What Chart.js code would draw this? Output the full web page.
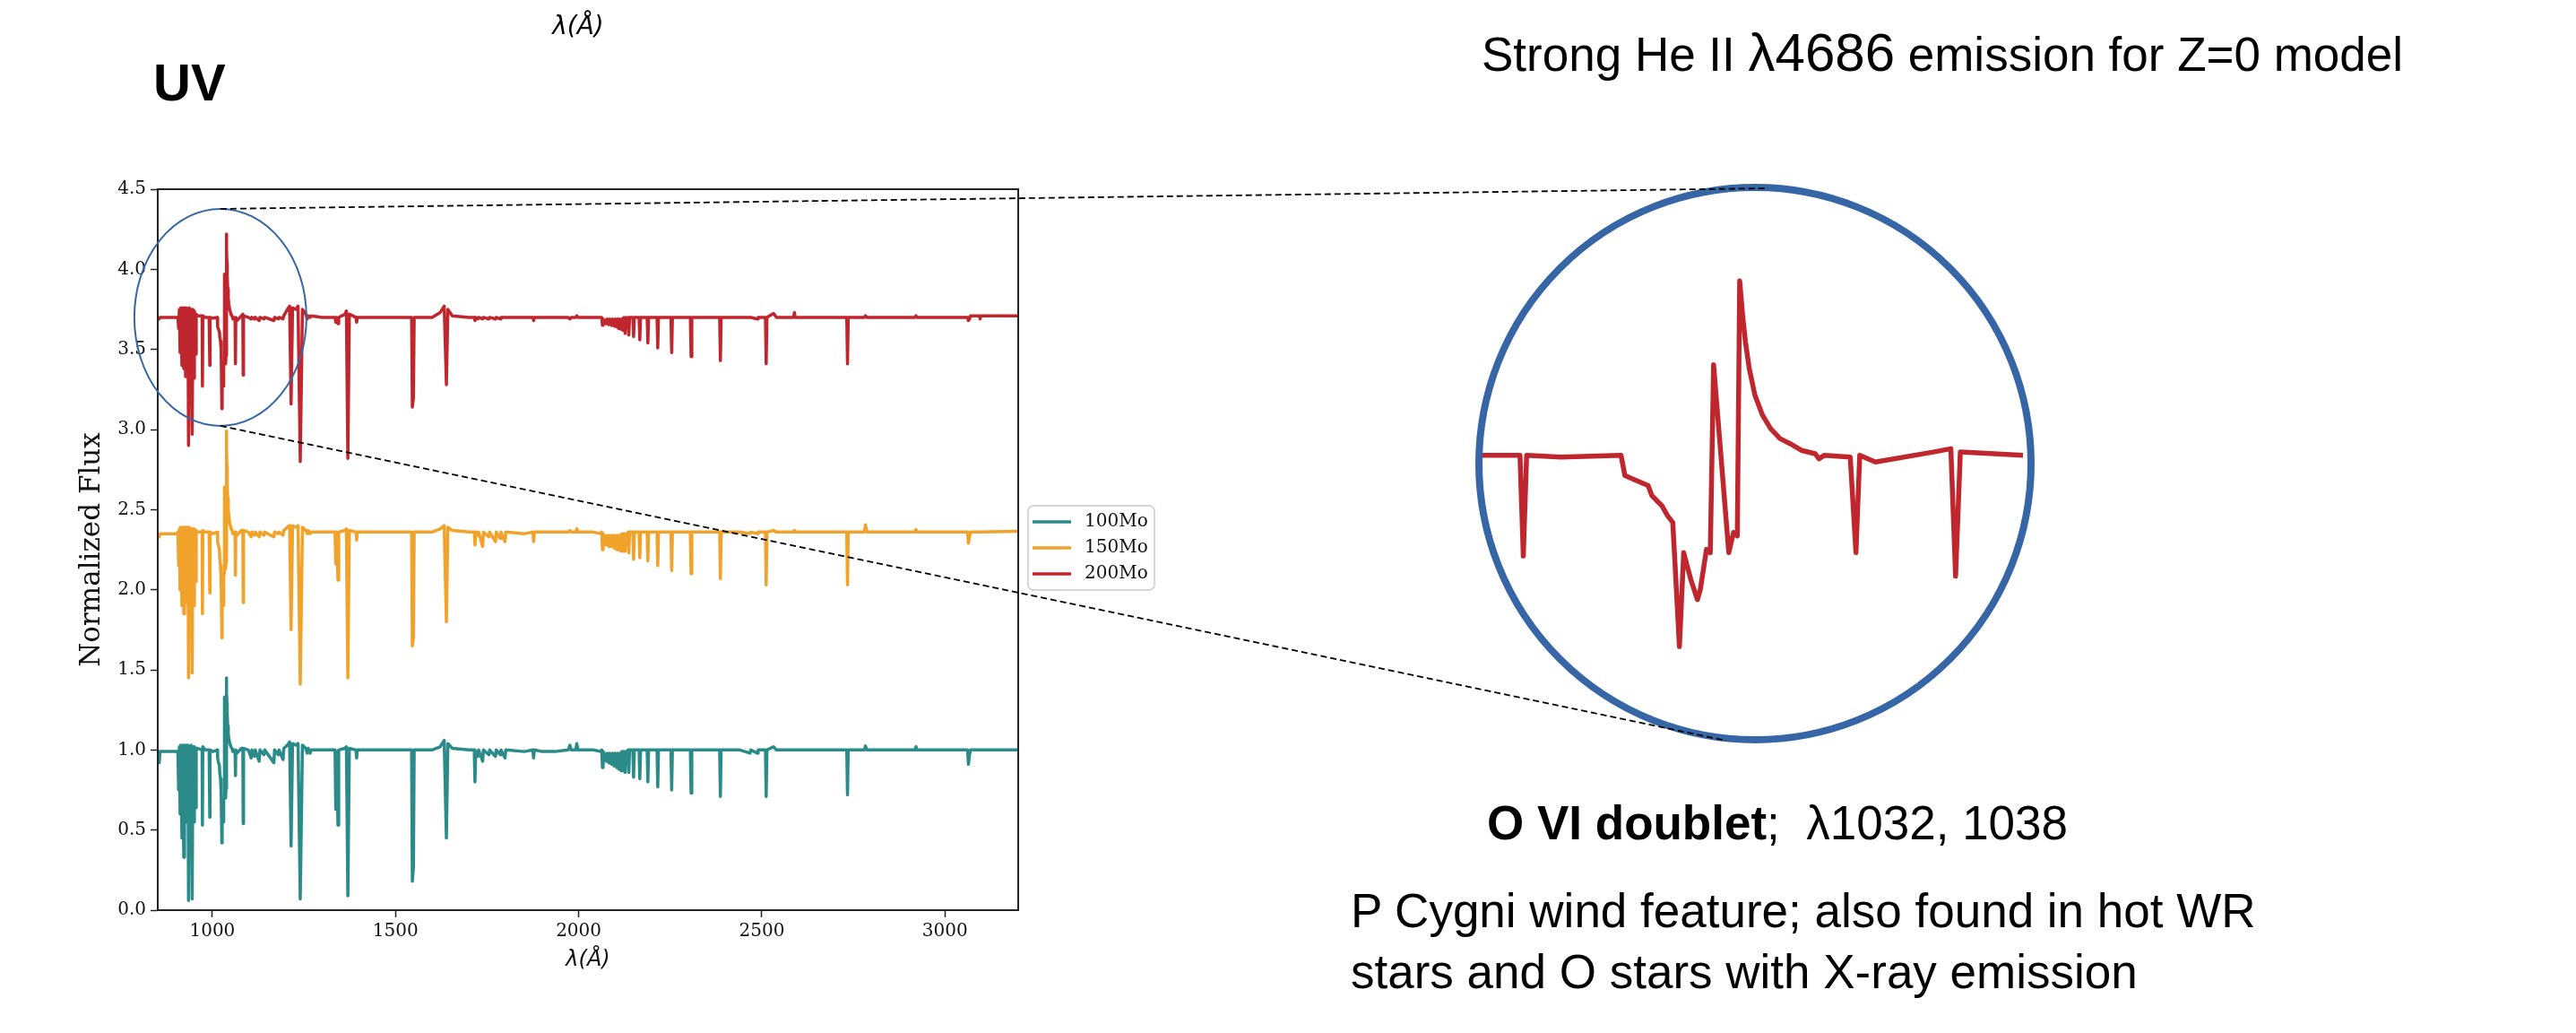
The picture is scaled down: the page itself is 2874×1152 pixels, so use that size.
<!DOCTYPE html>
<html>
<head>
<meta charset="utf-8">
<script src="https://cdn.jsdelivr.net/npm/chart.js@4.4.0/dist/chart.umd.min.js"></script>
<style>
  html, body { margin: 0; padding: 0; background: #fff; }
  body { width: 2874px; height: 1152px; position: relative; overflow: hidden;
         font-family: "Liberation Sans", Arial, sans-serif; color: #000; }
  canvas { position: absolute; }
  #spectrum { left: 0; top: 0; }
  #zoom { left: 1654px; top: 210px; }
  .txt { position: absolute; white-space: pre; font-size: 53px; line-height: 53px; }
  .big { font-size: 60px; line-height: 0; }
</style>
</head>
<body>
<canvas id="spectrum" width="2874" height="1152"></canvas>
<canvas id="zoom" width="603" height="614"></canvas>

<div class="txt" style="left:600px; top:15px; width:90px; text-align:center; font:italic 28px/28px 'DejaVu Sans'">λ(Å)</div>
<div class="txt" style="left:171px; top:63px; font-size:58px; line-height:58px; font-weight:bold">UV</div>
<div class="txt" style="left:1653px; top:34px">Strong He II <span class="big">λ4686</span> emission for Z=0 model</div>
<div class="txt" style="left:1659px; top:891px"><b>O VI doublet</b>;  λ1032, 1038</div>
<div class="txt" style="left:1507px; top:982px; line-height:68px">P Cygni wind feature; also found in hot WR<br>stars and O stars with X-ray emission</div>

<script>
// rest-frame wavelength grid (Angstrom), shared by the three models
const wavelength = [
  851, 853, 855, 857, 870, 890, 904,
  906, 908, 910, 912, 914, 917, 919, 922, 924, 927, 929, 932, 933.5, 935, 937, 940, 942, 945, 947, 949, 951, 954, 956, 960, 972, 973, 974, 980,
  984.5, 991.2, 992.4, 993.1, 993.8, 1001, 1013.7, 1014.5, 1016.1, 1019.4, 1020.2, 1022.3, 1023.5, 1024.6, 1026.0, 1026.9, 1028.4, 1029.8, 1030.4, 1031.7, 1032.5, 1033.2,
  1036.4, 1037.4, 1038.2, 1038.7, 1039.3, 1039.9, 1040.7, 1041.9, 1043.5, 1045.2, 1047.2, 1049.3, 1051.7, 1054.6, 1055.4, 1056.5,
  1062, 1063.2, 1064, 1067.3, 1079.5, 1083.2, 1084.2, 1085.2, 1098.4,
  1106, 1108, 1115, 1117, 1128, 1130, 1141, 1143, 1168, 1170, 1180, 1182, 1193, 1195, 1205, 1211, 1215, 1219, 1228, 1234,
  1240, 1246, 1255, 1259, 1262, 1267, 1270, 1300, 1335, 1337, 1339, 1343, 1345, 1362, 1366, 1370, 1374, 1392, 1394, 1396,
  1450, 1500, 1544, 1546, 1549, 1551, 1600, 1622, 1633, 1639, 1643, 1655, 1700, 1715, 1717, 1719, 1725,
  1727, 1738, 1740, 1755, 1757, 1773, 1775, 1786, 1788, 1799, 1801, 1852, 1875, 1877, 1879, 1900, 1935,
  1972, 1976, 1980, 1992, 1995, 1998, 2040, 2060, 2063, 2065, 2067, 2075, 2077, 2082, 2084, 2090, 2092,
  2097, 2099, 2104, 2106, 2110, 2112, 2116, 2118, 2121, 2123, 2127, 2129, 2133, 2135, 2137, 2139,
  2148, 2150, 2152, 2165, 2167, 2169, 2187, 2189, 2191, 2214, 2216, 2218, 2252, 2254, 2256, 2305, 2307, 2309, 2385,
  2387, 2389, 2440, 2468, 2470, 2488, 2490, 2510, 2512, 2514, 2532, 2540, 2587, 2589, 2591, 2650, 2732, 2734, 2736,
  2780, 2783, 2787, 2918, 2921, 2924, 3062, 3064, 3067, 3070, 3094, 3096, 3098, 3200
];

// normalized flux, 100 Msun model (no offset)
const flux100 = [
  1.00, 1.00, 0.92, 0.99, 0.99, 0.99, 0.99,
  0.99, 0.75, 1.02, 0.60, 1.03, 0.45, 1.03, 0.33, 1.03, 0.55, 1.03, 0.70, 1.03, 0.06, 1.02, 0.55, 1.03, 0.07, 1.02, 0.55, 1.02, 0.64, 1.01, 1.01, 1.00, 0.53, 1.02, 1.00,
  1.00, 1.00, 1.00, 0.58, 1.00, 0.99, 1.00, 0.95, 0.93, 0.90, 0.86, 0.82, 0.78, 0.74, 0.42, 0.62, 0.57, 0.55, 0.57, 0.70, 0.70, 1.33,
  0.70, 0.78, 0.76, 1.45, 1.36, 1.29, 1.22, 1.15, 1.10, 1.07, 1.045, 1.03, 1.015, 1.005, 0.99, 1.00,
  0.99, 0.84, 1.00, 0.98, 1.01, 1.01, 0.54, 1.01, 1.00,
  0.95, 1.00, 0.96, 1.00, 0.93, 1.00, 0.97, 1.00, 0.92, 1.00, 0.97, 1.00, 0.94, 1.01, 1.03, 1.05, 0.40, 1.04, 1.03, 1.04,
  0.07, 1.03, 1.01, 0.98, 1.01, 0.98, 1.00, 1.00, 1.00, 0.63, 0.99, 0.53, 1.00, 1.01, 1.02, 0.09, 1.01, 1.00, 0.95, 1.00,
  1.00, 1.00, 1.00, 0.18, 0.27, 1.00, 1.00, 1.02, 1.06, 0.45, 1.04, 1.01, 1.00, 1.00, 0.80, 0.99, 0.96,
  1.00, 0.93, 1.00, 0.97, 1.00, 0.96, 1.00, 0.97, 1.00, 0.95, 1.00, 0.99, 1.00, 0.95, 1.00, 0.99, 0.99,
  1.00, 1.03, 1.00, 1.00, 1.04, 1.00, 1.00, 0.99, 1.00, 0.89, 0.99, 0.93, 0.98, 0.92, 0.98, 0.91, 0.98,
  0.90, 0.98, 0.89, 0.98, 0.88, 0.98, 0.87, 0.99, 0.87, 0.99, 0.86, 0.99, 0.93, 1.00, 0.86, 1.00,
  1.00, 0.83, 1.00, 1.00, 0.82, 1.00, 1.00, 0.80, 1.00, 1.00, 0.77, 1.00, 1.00, 0.75, 1.00, 1.00, 0.73, 1.00, 1.00,
  0.71, 1.00, 1.00, 0.98, 1.00, 0.98, 1.00, 1.00, 0.71, 1.00, 1.02, 1.00, 1.00, 1.00, 1.00, 1.00, 1.00, 0.72, 1.00,
  1.00, 1.025, 1.00, 1.00, 1.02, 1.00, 1.00, 0.91, 0.97, 1.00, 1.00, 1.00, 1.00, 1.00
];

// 150 Msun model, plotted with +1.35 offset
const flux150 = [
  2.35, 2.35, 2.33, 2.35, 2.35, 2.35, 2.35,
  2.36, 2.15, 2.38, 2.00, 2.39, 1.90, 2.39, 1.85, 2.39, 1.92, 2.39, 2.05, 2.39, 1.45, 2.39, 1.90, 2.38, 1.48, 2.38, 1.90, 2.38, 2.05, 2.37, 2.36, 2.36, 1.85, 2.37, 2.36,
  2.36, 2.36, 2.36, 1.98, 2.36, 2.35, 2.36, 2.30, 2.28, 2.25, 2.20, 2.15, 2.10, 2.06, 1.70, 2.00, 1.93, 1.90, 1.93, 2.10, 2.10, 2.64,
  2.13, 2.18, 2.17, 2.99, 2.86, 2.77, 2.67, 2.57, 2.50, 2.46, 2.42, 2.40, 2.38, 2.365, 2.35, 2.36,
  2.35, 2.09, 2.36, 2.34, 2.37, 2.37, 1.92, 2.37, 2.36,
  2.33, 2.36, 2.34, 2.36, 2.33, 2.36, 2.34, 2.36, 2.33, 2.36, 2.35, 2.36, 2.34, 2.37, 2.39, 2.40, 1.75, 2.40, 2.39, 2.40,
  1.41, 2.39, 2.37, 2.35, 2.37, 2.35, 2.36, 2.36, 2.36, 2.16, 2.36, 2.06, 2.36, 2.37, 2.38, 1.45, 2.37, 2.36, 2.31, 2.36,
  2.36, 2.36, 2.36, 1.65, 1.70, 2.36, 2.36, 2.38, 2.40, 1.80, 2.39, 2.37, 2.36, 2.36, 2.28, 2.36, 2.34,
  2.36, 2.27, 2.36, 2.33, 2.36, 2.30, 2.36, 2.32, 2.36, 2.30, 2.36, 2.35, 2.36, 2.30, 2.36, 2.36, 2.36,
  2.36, 2.37, 2.36, 2.36, 2.38, 2.36, 2.36, 2.35, 2.36, 2.25, 2.35, 2.28, 2.34, 2.27, 2.34, 2.27, 2.34,
  2.26, 2.34, 2.25, 2.34, 2.25, 2.34, 2.24, 2.35, 2.24, 2.35, 2.24, 2.35, 2.30, 2.36, 2.23, 2.36,
  2.36, 2.19, 2.36, 2.36, 2.20, 2.36, 2.36, 2.18, 2.36, 2.36, 2.15, 2.36, 2.36, 2.12, 2.36, 2.36, 2.10, 2.36, 2.36,
  2.07, 2.36, 2.36, 2.35, 2.36, 2.35, 2.36, 2.36, 2.03, 2.36, 2.37, 2.36, 2.36, 2.37, 2.36, 2.36, 2.36, 2.03, 2.36,
  2.36, 2.405, 2.36, 2.36, 2.375, 2.36, 2.36, 2.29, 2.33, 2.36, 2.36, 2.36, 2.36, 2.365
];

// 200 Msun model, plotted with +2.7 offset
const flux200 = [
  3.70, 3.70, 3.69, 3.70, 3.70, 3.70, 3.70,
  3.70, 3.63, 3.75, 3.48, 3.76, 3.40, 3.76, 3.38, 3.76, 3.33, 3.76, 3.45, 3.75, 2.90, 3.76, 3.30, 3.75, 2.97, 3.75, 3.32, 3.74, 3.47, 3.72, 3.71, 3.71, 3.27, 3.71, 3.70,
  3.70, 3.70, 3.70, 3.40, 3.70, 3.695, 3.70, 3.64, 3.63, 3.61, 3.58, 3.55, 3.52, 3.50, 3.13, 3.41, 3.33, 3.27, 3.30, 3.42, 3.41, 3.97,
  3.41, 3.47, 3.46, 4.22, 4.12, 4.04, 3.96, 3.88, 3.82, 3.78, 3.75, 3.735, 3.715, 3.705, 3.69, 3.70,
  3.695, 3.41, 3.70, 3.68, 3.71, 3.72, 3.34, 3.71, 3.70,
  3.69, 3.70, 3.69, 3.70, 3.68, 3.70, 3.69, 3.70, 3.68, 3.70, 3.69, 3.70, 3.69, 3.71, 3.75, 3.77, 3.16, 3.76, 3.75, 3.77,
  2.80, 3.75, 3.72, 3.69, 3.71, 3.70, 3.71, 3.70, 3.70, 3.67, 3.70, 3.66, 3.70, 3.72, 3.74, 2.82, 3.72, 3.70, 3.67, 3.70,
  3.70, 3.70, 3.70, 3.14, 3.20, 3.70, 3.70, 3.73, 3.77, 3.28, 3.75, 3.71, 3.70, 3.70, 3.68, 3.70, 3.69,
  3.70, 3.69, 3.70, 3.69, 3.70, 3.69, 3.70, 3.69, 3.70, 3.70, 3.70, 3.70, 3.70, 3.68, 3.70, 3.70, 3.70,
  3.70, 3.69, 3.70, 3.70, 3.71, 3.70, 3.70, 3.70, 3.70, 3.65, 3.69, 3.66, 3.69, 3.655, 3.69, 3.65, 3.69,
  3.645, 3.69, 3.64, 3.69, 3.63, 3.69, 3.625, 3.69, 3.62, 3.70, 3.60, 3.70, 3.66, 3.70, 3.59, 3.70,
  3.70, 3.58, 3.70, 3.70, 3.56, 3.70, 3.70, 3.54, 3.70, 3.70, 3.51, 3.70, 3.70, 3.48, 3.70, 3.70, 3.455, 3.70, 3.70,
  3.43, 3.70, 3.70, 3.70, 3.70, 3.69, 3.70, 3.70, 3.41, 3.70, 3.725, 3.70, 3.70, 3.73, 3.70, 3.70, 3.70, 3.41, 3.70,
  3.70, 3.71, 3.70, 3.70, 3.71, 3.70, 3.70, 3.68, 3.69, 3.71, 3.71, 3.69, 3.71, 3.71
];

const modelLabels = ['100Mo', '150Mo', '200Mo'];
const xTicks = [1000, 1500, 2000, 2500, 3000];
const yTicks = [0, 0.5, 1, 1.5, 2, 2.5, 3, 3.5, 4, 4.5];

const TEAL = '#2a8b88', ORANGE = '#f0a22b', RED = '#c0262d', BLUE = '#3766a6';
const SERIF = '"DejaVu Serif", serif';

const points = flux => wavelength.map((w, i) => ({ x: w, y: flux[i] }));

// closes the axes box on top and right like matplotlib spines
const frame = {
  id: 'frame',
  afterDatasetsDraw(chart) {
    const { ctx, chartArea: a } = chart;
    ctx.save();
    ctx.strokeStyle = '#222';
    ctx.lineWidth = 2;
    ctx.strokeRect(a.left, a.top, a.right - a.left, a.bottom - a.top);
    ctx.restore();
  }
};

// legend just outside the right spine
const legendBox = {
  id: 'legendBox',
  afterDraw(chart) {
    const { ctx } = chart;
    ctx.save();
    ctx.fillStyle = '#fff';
    ctx.strokeStyle = '#d6d6d6';
    ctx.lineWidth = 2;
    ctx.beginPath();
    ctx.roundRect(1147, 564, 141, 94, 6);
    ctx.fill();
    ctx.stroke();
    ctx.font = '20px ' + SERIF;
    ctx.textBaseline = 'middle';
    chart.data.datasets.forEach((ds, i) => {
      const yy = 582 + i * 29;
      ctx.strokeStyle = ds.borderColor;
      ctx.lineWidth = 3.5;
      ctx.beginPath();
      ctx.moveTo(1152, yy);
      ctx.lineTo(1195, yy);
      ctx.stroke();
      ctx.fillStyle = '#111';
      ctx.fillText(ds.label, 1210, yy);
    });
    ctx.restore();
  }
};

// ellipse around O VI, the magnifier ring and the dashed connectors
const zoomGuide = {
  id: 'zoomGuide',
  afterDraw(chart) {
    const { ctx, scales: { x, y } } = chart;
    const cx = x.getPixelForValue(1022);
    const cy = y.getPixelForValue(3.70);
    const rx = 96, ry = 121;
    ctx.save();
    ctx.strokeStyle = BLUE;
    ctx.lineWidth = 2;
    ctx.beginPath();
    ctx.ellipse(cx, cy, rx, ry, 0, 0, Math.PI * 2);
    ctx.stroke();

    ctx.lineWidth = 8;
    ctx.beginPath();
    ctx.arc(1958, 517, 308, 0, Math.PI * 2);
    ctx.stroke();

    ctx.strokeStyle = '#000';
    ctx.lineWidth = 1.8;
    ctx.setLineDash([7, 4]);
    ctx.beginPath();
    ctx.moveTo(cx, cy - ry);
    ctx.lineTo(1973, 210);
    ctx.moveTo(cx, cy + ry);
    ctx.lineTo(1926, 826);
    ctx.stroke();
    ctx.restore();
  }
};

const lineStyle = {
  line: { borderWidth: 3.5, borderJoinStyle: 'round', tension: 0, fill: false },
  point: { radius: 0 }
};

new Chart(document.getElementById('spectrum'), {
  type: 'line',
  data: {
    datasets: [
      { label: modelLabels[0], data: points(flux100), borderColor: TEAL, order: 2 },
      { label: modelLabels[1], data: points(flux150), borderColor: ORANGE, order: 1 },
      { label: modelLabels[2], data: points(flux200), borderColor: RED, order: 0 }
    ]
  },
  options: {
    responsive: false,
    animation: false,
    events: [],
    layout: { padding: { left: 0, top: 211, right: 1738, bottom: 0 } },
    elements: lineStyle,
    plugins: { legend: { display: false }, tooltip: { enabled: false } },
    scales: {
      x: {
        type: 'linear',
        min: 851,
        max: 3200,
        afterBuildTicks: s => { s.ticks = xTicks.map(v => ({ value: v })); },
        afterFit: s => { s.height = 137; },
        ticks: { font: { family: SERIF, size: 20 }, color: '#111', padding: 4, maxRotation: 0,
                 callback: v => String(v) },
        grid: { drawOnChartArea: false, drawTicks: true, tickLength: 8, tickColor: '#222', tickWidth: 1.5 },
        border: { display: true, color: '#222', width: 2 },
        title: { display: true, text: 'λ(Å)', color: '#111',
                 font: { family: '"DejaVu Sans"', size: 24, style: 'italic' },
                 padding: { top: 0, bottom: 67 } }
      },
      y: {
        type: 'linear',
        min: 0,
        max: 4.5,
        afterBuildTicks: s => { s.ticks = yTicks.map(v => ({ value: v })); },
        afterFit: s => { s.width = 176; },
        ticks: { font: { family: SERIF, size: 20 }, color: '#111', padding: 5,
                 callback: v => v.toFixed(1) },
        grid: { drawOnChartArea: false, drawTicks: true, tickLength: 8, tickColor: '#222', tickWidth: 1.5 },
        border: { display: true, color: '#222', width: 2 },
        title: { display: true, text: 'Normalized Flux', color: '#111',
                 font: { family: SERIF, size: 31 },
                 padding: { top: 84, bottom: 0 } }
      }
    }
  },
  plugins: [frame, legendBox, zoomGuide]
});

// magnified O VI doublet of the 200Mo model
new Chart(document.getElementById('zoom'), {
  type: 'line',
  data: {
    datasets: [{ label: modelLabels[2], data: points(flux200), borderColor: RED, borderWidth: 5.5 }]
  },
  options: {
    responsive: false,
    animation: false,
    events: [],
    layout: { padding: 0 },
    elements: lineStyle,
    plugins: { legend: { display: false }, tooltip: { enabled: false } },
    scales: {
      x: { type: 'linear', display: false, min: 984.5, max: 1098.4 },
      y: { type: 'linear', display: false, min: 2.855, max: 4.496 }
    }
  }
});
</script>
</body>
</html>
